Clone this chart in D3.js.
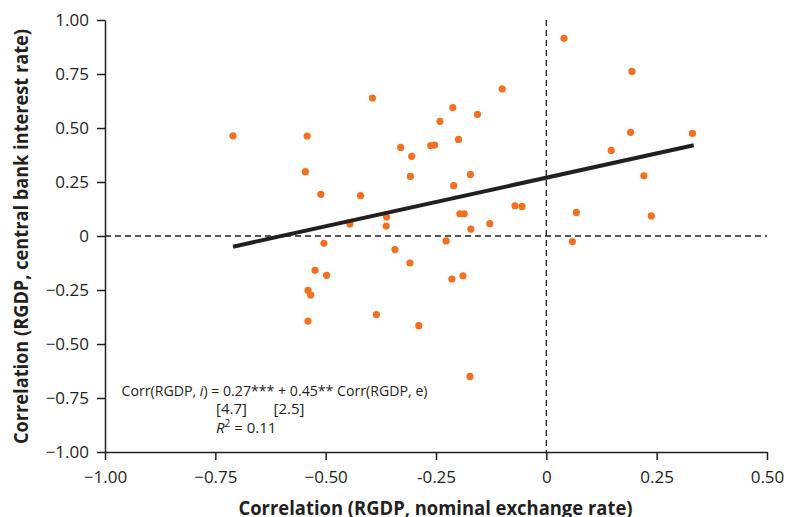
<!DOCTYPE html>
<html>
<head>
<meta charset="utf-8">
<script src="https://cdn.jsdelivr.net/npm/d3@7"></script>
<style>
  html, body { margin: 0; padding: 0; background: #fff; }
  svg { display: block; font-family: "Open Sans", "Noto Sans", sans-serif; }
</style>
</head>
<body>
<svg id="chart" width="786" height="517"></svg>
<script>
// ---- Data ----
const exchangeCorr = [
  -0.710, -0.542, -0.546, -0.511, -0.421, -0.394, -0.362, -0.363, -0.445, -0.504,
  -0.343, -0.330,  0.040,  0.194, -0.100, -0.212, -0.156, -0.241, -0.262, -0.253,
  -0.305, -0.199,  0.191,  0.331,  0.147, -0.308, -0.172, -0.210,  0.221, -0.196,
  -0.186, -0.071, -0.055,  0.068,  0.238, -0.128, -0.171, -0.227,  0.059, -0.309,
  -0.214, -0.189, -0.289, -0.173, -0.524, -0.498, -0.540, -0.534, -0.540, -0.385
];
const interestCorr = [
   0.464,  0.463,  0.298,  0.193,  0.187,  0.639,  0.088,  0.046,  0.056, -0.034,
  -0.063,  0.410,  0.915,  0.762,  0.681,  0.594,  0.563,  0.531,  0.418,  0.421,
   0.369,  0.447,  0.480,  0.475,  0.396,  0.276,  0.285,  0.233,  0.279,  0.103,
   0.103,  0.140,  0.137,  0.109,  0.093,  0.057,  0.032, -0.023, -0.026, -0.125,
  -0.199, -0.184, -0.415, -0.650, -0.159, -0.182, -0.252, -0.273, -0.394, -0.364
];
const regIntercept = 0.27;
const regSlope = 0.45;
const xTickValues = [-1.00, -0.75, -0.50, -0.25, 0, 0.25, 0.50];
const xTickLabels = ["\u22121.00", "\u22120.75", "\u22120.50", "-0.25", "0", "0.25", "0.50"];
const yTickValues = [-1.00, -0.75, -0.50, -0.25, 0, 0.25, 0.50, 0.75, 1.00];
const yTickLabels = ["\u22121.00", "\u22120.75", "\u22120.50", "\u22120.25", "0", "0.25", "0.50", "0.75", "1.00"];
const xTitle = "Correlation (RGDP, nominal exchange rate)";
const yTitle = "Correlation (RGDP, central bank interest rate)";

// ---- Layout ----
const ink = "#231f20";
const dotColor = "#f37021";
const svg = d3.select("#chart");
const x = d3.scaleLinear().domain([-1, 0.5]).range([105, 767]);
const y = d3.scaleLinear().domain([-1, 1]).range([452, 20]);

// Reference dashed lines
svg.append("line")
  .attr("x1", x(-1)).attr("x2", x(0.5))
  .attr("y1", y(0)).attr("y2", y(0))
  .attr("stroke", ink).attr("stroke-width", 1.3).attr("stroke-dasharray", "6,4");
svg.append("line")
  .attr("x1", x(0)).attr("x2", x(0))
  .attr("y1", y(1)).attr("y2", y(-1))
  .attr("stroke", ink).attr("stroke-width", 1.3).attr("stroke-dasharray", "6,4");

// Axes
const xAxis = d3.axisBottom(x)
  .tickValues(xTickValues)
  .tickFormat((d, i) => xTickLabels[i])
  .tickSizeInner(8).tickSizeOuter(0).tickPadding(11);
const yAxis = d3.axisLeft(y)
  .tickValues(yTickValues)
  .tickFormat((d, i) => yTickLabels[i])
  .tickSizeInner(8).tickSizeOuter(0).tickPadding(8);

const gx = svg.append("g").attr("transform", `translate(0,${y(-1)})`).call(xAxis);
const gy = svg.append("g").attr("transform", `translate(${x(-1)},0)`).call(yAxis);
[gx, gy].forEach(g => {
  g.select(".domain").attr("stroke", ink).attr("stroke-width", 1.5);
  g.selectAll(".tick line").attr("stroke", ink).attr("stroke-width", 1.5);
  g.selectAll(".tick text")
    .attr("fill", ink)
    .style("font-family", "'Open Sans', sans-serif")
    .style("font-size", "17px");
});

// Points
const pts = exchangeCorr.map((v, i) => ({ x: v, y: interestCorr[i] }));
svg.append("g").selectAll("circle")
  .data(pts).join("circle")
  .attr("cx", d => x(d.x))
  .attr("cy", d => y(d.y))
  .attr("r", 3.6)
  .attr("fill", dotColor);

// Regression line
const xr = d3.extent(exchangeCorr);
svg.append("line")
  .attr("x1", x(xr[0])).attr("y1", y(regIntercept + regSlope * xr[0]))
  .attr("x2", x(xr[1] + 0.003)).attr("y2", y(regIntercept + regSlope * (xr[1] + 0.003)))
  .attr("stroke", ink).attr("stroke-width", 4);

// Axis titles
svg.append("text")
  .attr("x", 435.5).attr("y", 514.5)
  .attr("text-anchor", "middle")
  .attr("font-weight", "bold").attr("font-size", 20)
  .attr("fill", ink)
  .attr("textLength", 394).attr("lengthAdjust", "spacingAndGlyphs")
  .text(xTitle);
svg.append("text")
  .attr("transform", "translate(27.5,236.5) rotate(-90)")
  .attr("text-anchor", "middle")
  .attr("font-weight", "bold").attr("font-size", 20)
  .attr("fill", ink)
  .attr("textLength", 415).attr("lengthAdjust", "spacingAndGlyphs")
  .text(yTitle);

// Annotation
const ann = svg.append("g").attr("fill", ink).attr("font-size", 15);
const t1 = ann.append("text").attr("x", 121.5).attr("y", 395.5)
  .attr("textLength", 306).attr("lengthAdjust", "spacingAndGlyphs");
t1.append("tspan").text("Corr(RGDP, ");
t1.append("tspan").attr("font-style", "italic").text("i");
t1.append("tspan").text(") = 0.27***  + 0.45** Corr(RGDP, e)");
ann.append("text").attr("x", 216).attr("y", 414).text("[4.7]");
ann.append("text").attr("x", 273.5).attr("y", 414).text("[2.5]");
const t3 = ann.append("text").attr("x", 216).attr("y", 433);
t3.append("tspan").attr("font-style", "italic").text("R");
t3.append("tspan").attr("font-size", 10).attr("dy", -6).text("2");
t3.append("tspan").attr("dy", 6).text(" = 0.11");
</script>
</body>
</html>
